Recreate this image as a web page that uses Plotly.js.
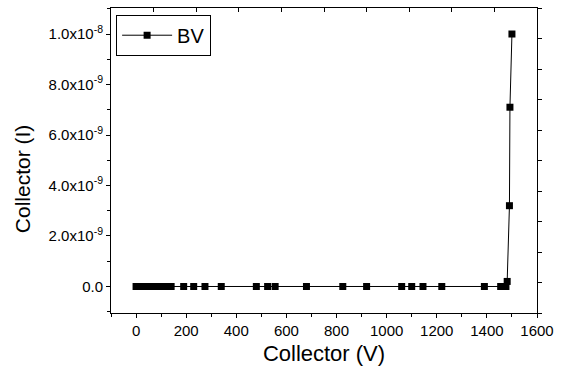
<!DOCTYPE html>
<html>
<head>
<meta charset="utf-8">
<script src="https://cdn.plot.ly/plotly-3.0.1.min.js"></script>
<style>html,body{margin:0;padding:0;background:#fff;}#chart{width:562px;height:374px;}</style>
</head>
<body>
<div id="chart"></div>
<script>
// Data
const seriesName = "BV";
const collectorV = [0, 3, 6, 10, 15, 20, 25, 30, 40, 50, 60, 70, 80, 90, 100, 110, 120, 130, 140,
  190, 230, 275, 340, 480, 525, 555, 680, 825, 920, 1060, 1100, 1145, 1220, 1390,
  1455, 1468, 1476, 1481, 1490, 1492, 1500];
const collectorI = [0, 0, 0, 0, 0, 0, 0, 0, 0, 0, 0, 0, 0, 0, 0, 0, 0, 0, 0,
  0, 0, 0, 0, 0, 0, 0, 0, 0, 0, 0, 0, 0, 0, 0,
  0, 0, 0, 0.2e-9, 3.2e-9, 7.1e-9, 1.0e-8];
const yTickVals = [0, 2e-9, 4e-9, 6e-9, 8e-9, 1e-8];
const yTickText = ["0.0", "2.0x10<sup>-9</sup>", "4.0x10<sup>-9</sup>", "6.0x10<sup>-9</sup>", "8.0x10<sup>-9</sup>", "1.0x10<sup>-8</sup>"];
const xTitle = "Collector (V)";
const yTitle = "Collector (I)";

const FONT = "Arial, 'Liberation Sans', sans-serif";

const traces = [
  {
    x: collectorV, y: collectorI, name: seriesName,
    type: "scatter", mode: "lines+markers",
    line: {color: "#000", width: 1},
    marker: {symbol: "square", size: 7, color: "#000"},
    hoverinfo: "skip"
  },
  {
    x: [], y: [], xaxis: "x2", yaxis: "y2", type: "scatter", mode: "markers",
    showlegend: false, hoverinfo: "skip"
  }
];

const layout = {
  width: 562, height: 374,
  margin: {l: 111, r: 25, t: 8, b: 61, pad: 0},
  paper_bgcolor: "#fff", plot_bgcolor: "#fff",
  font: {family: FONT, color: "#000", size: 15},
  showlegend: true,
  legend: {
    x: 0.012, y: 0.978, xanchor: "left", yanchor: "top",
    bordercolor: "#000", borderwidth: 1, bgcolor: "#fff",
    font: {family: FONT, size: 20, color: "#000"},
    itemwidth: 50, tracegroupgap: 0
  },
  annotations: [{
    text: yTitle, xref: "paper", yref: "paper", x: -0.208, y: 0.44,
    xanchor: "center", yanchor: "middle", textangle: -90, showarrow: false,
    font: {family: FONT, size: 21, color: "#000"}
  }],
  xaxis: {
    range: [-100, 1600], tickmode: "linear", tick0: 0, dtick: 200,
    ticks: "outside", ticklen: 4, tickwidth: 1, tickcolor: "#000",
    showline: true, linecolor: "#000", linewidth: 1, mirror: true,
    showgrid: false, zeroline: false,
    tickfont: {family: FONT, size: 15, color: "#000"},
    minor: {tickmode: "linear", tick0: 0, dtick: 100, ticks: "outside", ticklen: 3, tickcolor: "#000", showgrid: false},
    title: {text: xTitle, font: {family: FONT, size: 22, color: "#000"}, standoff: 7},
    automargin: false
  },
  yaxis: {
    range: [-1.05e-9, 1.103e-8],
    tickmode: "array", tickvals: yTickVals, ticktext: yTickText,
    ticks: "outside", ticklen: 4, tickwidth: 1, tickcolor: "#000",
    showline: true, linecolor: "#000", linewidth: 1, mirror: true,
    showgrid: false, zeroline: false,
    tickfont: {family: FONT, size: 15, color: "#000"},
    minor: {tickmode: "linear", tick0: 0, dtick: 1e-9, ticks: "outside", ticklen: 3, tickcolor: "#000", showgrid: false},
    automargin: false
  },
  xaxis2: {
    overlaying: "x", side: "top", anchor: "y2", range: [0, 10],
    tickmode: "linear", tick0: 0, dtick: 1, ticks: "inside", ticklen: 4, tickcolor: "#000",
    showticklabels: false, showgrid: false, zeroline: false, showline: false
  },
  yaxis2: {
    overlaying: "y", side: "right", anchor: "x2", range: [0, 10],
    tickmode: "linear", tick0: 0, dtick: 1, ticks: "outside", ticklen: 4, tickcolor: "#000",
    showticklabels: false, showgrid: false, zeroline: false, showline: false
  }
};

Plotly.newPlot("chart", traces, layout, {staticPlot: true, displayModeBar: false});
</script>
</body>
</html>
